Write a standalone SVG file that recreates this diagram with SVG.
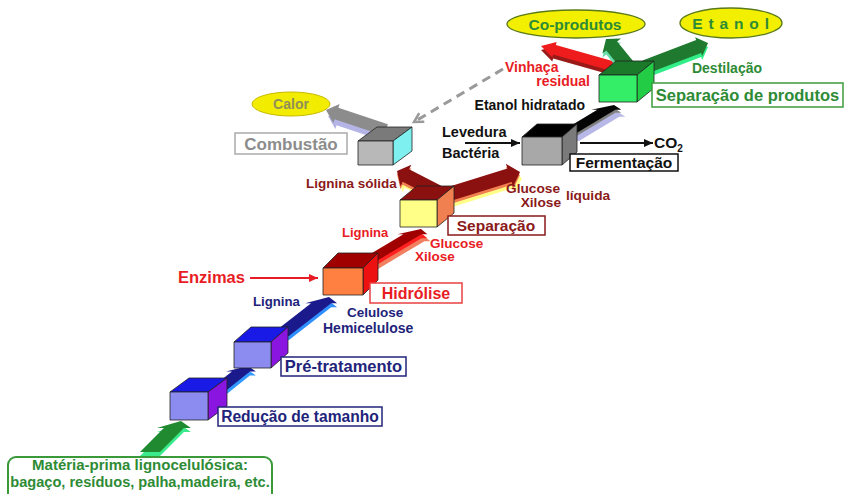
<svg xmlns="http://www.w3.org/2000/svg" width="849" height="494" viewBox="0 0 849 494">
<defs>
<style>
text{font-family:"Liberation Sans",Arial,sans-serif;font-weight:bold}
.cube{stroke:#222;stroke-width:0.8;stroke-linejoin:round}
.lbl{fill:#fff;stroke-width:1.5}
.g{fill:#2e8b35}.r{fill:#e81c24}.dr{fill:#8b1a1a}.nv{fill:#22237a}.k{fill:#111}
.ell{fill:#f2f000;stroke:#5a7a1a;stroke-width:1.3}
</style>
<marker id="mr" markerWidth="10" markerHeight="10" refX="9" refY="4" orient="auto" markerUnits="userSpaceOnUse"><path d="M0,0 L9,4 L0,8Z" fill="#e81c24"/></marker>
<marker id="mk" markerWidth="10" markerHeight="10" refX="9" refY="4" orient="auto" markerUnits="userSpaceOnUse"><path d="M0,0 L9,4 L0,8Z" fill="#111"/></marker>
<marker id="mg" markerWidth="14" markerHeight="14" refX="10" refY="6" orient="auto" markerUnits="userSpaceOnUse"><path d="M1,1 L10,6 L1,11" fill="none" stroke="#9a9a9a" stroke-width="2.5"/></marker>
<path id="p1" d="M0,-10H33.8V-17L43.8,0L33.8,17V10H0Z"/>
<path id="p2" d="M0,-9H34.4V-15L43.4,0L34.4,15V9H0Z"/>
<path id="p3" d="M0,-10H53.4V-16L63.4,0L53.4,16V10H0Z"/>
<path id="p4" d="M0,-9H54.1V-15L64.1,0L54.1,15V9H0Z"/>
<path id="p5a" d="M0,-7H36.1V-12L46.1,0L36.1,12V7H0Z"/>
<path id="p5b" d="M0,-7H66.5V-12L77.5,0L66.5,12V7H0Z"/>
<path id="p6" d="M0,-9H47.1V-15L56.1,0L47.1,15V9H0Z"/>
<path id="p7a" d="M0,-5H59.8V-8L73.8,0L59.8,8V5H0Z"/>
<path id="p7b" d="M0,-7H25.8V-12L34.8,0L25.8,12V7H0Z"/>
<path id="p7c" d="M0,-7H57.4V-10L67.4,0L57.4,10V7H0Z"/>
<path id="p8" d="M0,-6H52.2V-10L63.2,0L52.2,10V6H0Z"/>
</defs>

<g id="connectors">
  <g id="e-feed">
    <use href="#p1" transform="translate(0,4) matrix(0.707,-0.707,1,0,150,452)" fill="#3bea8a"/>
    <use href="#p1" transform="matrix(0.707,-0.707,1,0,150,452)" fill="#1f8a2f"/>
  </g>
  <g id="e-red-pre">
    <use href="#p2" transform="translate(0,4) matrix(0.783,-0.622,1,0,214,393)" fill="#3399ff"/>
    <use href="#p2" transform="matrix(0.783,-0.622,1,0,214,393)" fill="#1a1a8c"/>
  </g>
  <g id="e-pre-hid">
    <use href="#p3" transform="translate(0,4) matrix(0.789,-0.615,1,0,279,336)" fill="#2f8fff"/>
    <use href="#p3" transform="matrix(0.789,-0.615,1,0,279,336)" fill="#1a1a8c"/>
  </g>
  <g id="e-hid-sep">
    <use href="#p4" transform="translate(3,7) matrix(0.858,-0.515,1,0,366,262)" fill="#f08060"/>
    <use href="#p4" transform="translate(0,4) matrix(0.858,-0.515,1,0,366,262)" fill="#ff2020"/>
    <use href="#p4" transform="matrix(0.858,-0.515,1,0,366,262)" fill="#a00000"/>
  </g>
  <g id="e-sep-lig">
    <use href="#p5a" transform="translate(2,6) matrix(-0.889,-0.456,0.456,-0.889,438,192)" fill="#ffff88"/>
    <use href="#p5a" transform="translate(0,3) matrix(-0.889,-0.456,0.456,-0.889,438,192)" fill="#f08050"/>
    <use href="#p5a" transform="matrix(-0.889,-0.456,0.456,-0.889,438,192)" fill="#8b1010"/>
  </g>
  <g id="e-sep-glu">
    <use href="#p5b" transform="translate(2,6) matrix(0.955,-0.297,0.297,0.955,446,195)" fill="#ffff88"/>
    <use href="#p5b" transform="translate(0,3) matrix(0.955,-0.297,0.297,0.955,446,195)" fill="#f08050"/>
    <use href="#p5b" transform="matrix(0.955,-0.297,0.297,0.955,446,195)" fill="#8b1010"/>
  </g>
  <g id="e-fer-dest">
    <use href="#p6" transform="translate(4,7) matrix(0.856,-0.517,1,0,566,134)" fill="#b8b8e8"/>
    <use href="#p6" transform="translate(0,3) matrix(0.856,-0.517,1,0,566,134)" fill="#808080"/>
    <use href="#p6" transform="matrix(0.856,-0.517,1,0,566,134)" fill="#050505"/>
  </g>
  <g id="e-vinhaca">
    <use href="#p7a" transform="translate(0,4) matrix(-0.962,-0.271,0.271,-0.962,612,66)" fill="#9a1a1a"/>
    <use href="#p7a" transform="matrix(-0.962,-0.271,0.271,-0.962,612,66)" fill="#ee1c1c"/>
  </g>
  <g id="e-coprod">
    <use href="#p7b" transform="translate(0,4) matrix(-0.632,-0.776,0.776,-0.632,628,66)" fill="#66ddaa"/>
    <use href="#p7b" transform="matrix(-0.632,-0.776,0.776,-0.632,628,66)" fill="#1f7a2f"/>
  </g>
  <g id="e-etanol">
    <use href="#p7c" transform="translate(0,4) matrix(0.935,-0.356,0.356,0.935,645,67)" fill="#33ee88"/>
    <use href="#p7c" transform="matrix(0.935,-0.356,0.356,0.935,645,67)" fill="#1f7a2f"/>
  </g>
  <g id="e-calor">
    <use href="#p8" transform="translate(2,6) matrix(-0.949,-0.316,0.316,-0.949,386,130)" fill="#b4b4e6"/>
    <use href="#p8" transform="matrix(-0.949,-0.316,0.316,-0.949,386,130)" fill="#8c8c8c"/>
  </g>
  <path d="M250,278H318" stroke="#e81c24" stroke-width="2" fill="none" marker-end="url(#mr)"/>
  <path d="M465,143H520" stroke="#111" stroke-width="2" fill="none" marker-end="url(#mk)"/>
  <path d="M580,143H653" stroke="#111" stroke-width="2" fill="none" marker-end="url(#mk)"/>
  <path d="M503,69L414,122" stroke="#9a9a9a" stroke-width="3" stroke-dasharray="9,6" fill="none" marker-end="url(#mg)"/>
</g>

<g id="n-materia">
  <rect x="8" y="457" width="264" height="45" rx="8" fill="#fff" stroke="#3a9a3a" stroke-width="2"/>
  <text x="140" y="470" text-anchor="middle" font-size="15" class="g">Matéria-prima lignocelulósica:</text>
  <text x="140" y="487" text-anchor="middle" font-size="14.6" class="g">bagaço, resíduos, palha,madeira, etc.</text>
</g>

<g id="n-reducao">
  <polygon class="cube" points="170,392 189,378 227,378 208,392" fill="#1a1ae6"/>
  <polygon class="cube" points="208,392 227,378 227,406 208,420" fill="#8a14e0"/>
  <rect class="cube" x="170" y="392" width="38" height="28" fill="#8c8cf0"/>
  <rect class="lbl" x="218" y="407" width="164" height="19" stroke="#22237a"/>
  <text x="300" y="422" text-anchor="middle" font-size="15.6" class="nv">Redução de tamanho</text>
</g>

<g id="n-pretratamento">
  <polygon class="cube" points="234,342 251,327 288,327 271,342" fill="#1a1ae6"/>
  <polygon class="cube" points="271,342 288,327 288,353 271,368" fill="#8a14e0"/>
  <rect class="cube" x="234" y="342" width="37" height="26" fill="#8c8cf0"/>
  <rect class="lbl" x="281" y="357" width="125" height="19" stroke="#22237a"/>
  <text x="343.5" y="372" text-anchor="middle" font-size="16.5" class="nv">Pré-tratamento</text>
</g>

<g id="n-hidrolise">
  <polygon class="cube" points="323,268 338,253 378,253 363,268" fill="#a00000"/>
  <polygon class="cube" points="363,268 378,253 378,280 363,295" fill="#ee1111"/>
  <rect class="cube" x="323" y="268" width="40" height="27" fill="#ff8040"/>
  <rect class="lbl" x="370" y="283" width="92" height="20" stroke="#e84040"/>
  <text x="416" y="299" text-anchor="middle" font-size="16" class="r">Hidrólise</text>
</g>

<g id="n-separacao">
  <polygon class="cube" points="400,200 417,186 454,186 437,200" fill="#8b1010"/>
  <polygon class="cube" points="437,200 454,186 454,213 437,227" fill="#f08050"/>
  <rect class="cube" x="400" y="200" width="37" height="27" fill="#ffff88"/>
  <rect class="lbl" x="448" y="216" width="97" height="19" stroke="#8b1a1a"/>
  <text x="496" y="230.5" text-anchor="middle" font-size="15.5" class="dr">Separação</text>
</g>

<g id="n-combustao">
  <polygon class="cube" points="358,141 377,127 412,127 393,141" fill="#7a7a7a"/>
  <polygon class="cube" points="393,141 412,127 412,151 393,165" fill="#7ff0f0"/>
  <rect class="cube" x="358" y="141" width="35" height="24" fill="#b8b8b8"/>
  <rect class="lbl" x="235" y="133" width="112" height="21" stroke="#aaaaaa"/>
  <text x="291" y="149.5" text-anchor="middle" font-size="17" fill="#8c8c8c">Combustão</text>
</g>

<g id="n-calor">
  <ellipse cx="291" cy="104" rx="39" ry="12" fill="#f2ec00" stroke="#c8b800" stroke-width="1"/>
  <text x="291" y="109" text-anchor="middle" font-size="14" fill="#8f8f5a">Calor</text>
</g>

<g id="n-fermentacao">
  <polygon class="cube" points="522,137 537,124 577,124 562,137" fill="#000"/>
  <polygon class="cube" points="562,137 577,124 577,152 562,165" fill="#7a7a7a"/>
  <rect class="cube" x="522" y="137" width="40" height="28" fill="#a8a8a8"/>
  <rect class="lbl" x="570" y="154" width="108" height="17" stroke="#111"/>
  <text x="624" y="167.5" text-anchor="middle" font-size="15.5" class="k">Fermentação</text>
</g>

<g id="n-separacao-produtos">
  <polygon class="cube" points="599,75 616,61 654,61 637,75" fill="#1a7a2a"/>
  <polygon class="cube" points="637,75 654,61 654,88 637,102" fill="#22cc44"/>
  <rect class="cube" x="599" y="75" width="38" height="27" fill="#33ee66"/>
  <rect class="lbl" x="652" y="83" width="191" height="24" stroke="#3c9c3c"/>
  <text x="747.5" y="101" text-anchor="middle" font-size="16.5" class="g">Separação de produtos</text>
</g>

<g id="n-coprodutos">
  <ellipse class="ell" cx="576" cy="24" rx="69" ry="14"/>
  <text x="575" y="30" text-anchor="middle" font-size="15.5" class="g">Co-produtos</text>
</g>

<g id="n-etanol">
  <ellipse class="ell" cx="731" cy="23" rx="51" ry="15"/>
  <text x="731" y="29" text-anchor="middle" font-size="15.5" letter-spacing="0.8" class="g">E t a n o l</text>
</g>

<g id="labels">
  <text x="727" y="73" text-anchor="middle" font-size="14" class="g">Destilação</text>
  <text x="505" y="72" font-size="14" class="r">Vinhaça</text>
  <text x="590" y="86" text-anchor="end" font-size="14" class="r">residual</text>
  <text x="585" y="110" text-anchor="end" font-size="14" class="k">Etanol hidratado</text>
  <text x="442" y="137" font-size="14.5" class="k">Levedura</text>
  <text x="442" y="158" font-size="14.5" class="k">Bactéria</text>
  <text x="654" y="148" font-size="15.5" class="k">CO<tspan font-size="10" dy="4">2</tspan></text>
  <text x="306" y="188" font-size="13.5" class="dr">Lignina sólida</text>
  <text x="560" y="193" text-anchor="end" font-size="13.7" class="dr">Glucose</text>
  <text x="561" y="207" text-anchor="end" font-size="13.7" class="dr">Xilose</text>
  <text x="566" y="200" font-size="13.7" class="dr">líquida</text>
  <text x="342" y="237" font-size="13" class="r">Lignina</text>
  <text x="430" y="248" font-size="13.5" class="r">Glucose</text>
  <text x="415" y="261" font-size="13.5" class="r">Xilose</text>
  <text x="178" y="283" font-size="16.5" class="r">Enzimas</text>
  <text x="253" y="306" font-size="13.2" class="nv">Lignina</text>
  <text x="347" y="316.5" font-size="13.5" class="nv">Celulose</text>
  <text x="323" y="333" font-size="14" class="nv">Hemicelulose</text>
</g>
</svg>
